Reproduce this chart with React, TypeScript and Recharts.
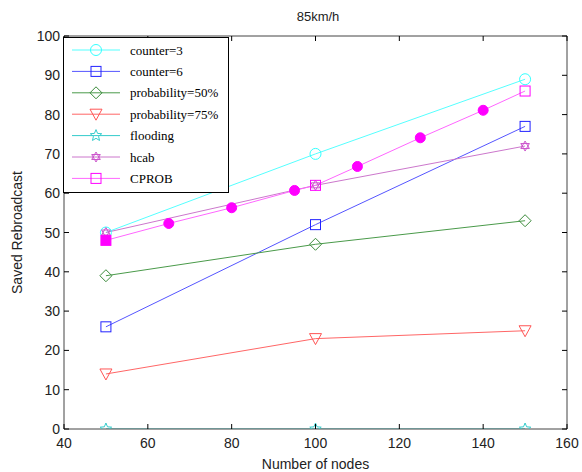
import React from 'react';
import { LineChart, Line, XAxis, YAxis } from 'recharts';

// x values (number of nodes) shared by most series
const nodes = [50, 100, 150];
const counter3 = [50, 70, 89];
const counter6 = [26, 52, 77];
const prob50 = [39, 47, 53];
const prob75 = [14, 23, 25];
const flooding = [0, 0, 0];
const hcab = [50, 62, 72];

// CPROB has extra intermediate points
const cprobNodes = [50, 65, 80, 95, 100, 110, 125, 140, 150];
const cprobValues = [48, 52.3, 56.3, 60.7, 62, 66.8, 74.1, 81.1, 86];
const cprobSquareNodes = [50, 100, 150];

const xTicks = [40, 60, 80, 100, 120, 140, 160];
const yTicks = [0, 10, 20, 30, 40, 50, 60, 70, 80, 90, 100];

type Marker = 'circle' | 'square' | 'diamond' | 'triangle' | 'star' | 'hexagram' | 'cprob';

interface Series {
    name: string;
    color: string;
    lineColor: string;
    marker: Marker;
    data: Array<{ x: number; y: number }>;
}

const zip = (xs: number[], ys: number[]) => xs.map((x, i) => ({ x, y: ys[i] }));

const series: Series[] = [
    { name: 'counter=3', color: '#33ffff', lineColor: '#55ffff', marker: 'circle', data: zip(nodes, counter3) },
    { name: 'counter=6', color: '#2222ff', lineColor: '#5555ff', marker: 'square', data: zip(nodes, counter6) },
    { name: 'probability=50%', color: '#3a8a3a', lineColor: '#4a9a4a', marker: 'diamond', data: zip(nodes, prob50) },
    { name: 'probability=75%', color: '#ff5555', lineColor: '#ff6666', marker: 'triangle', data: zip(nodes, prob75) },
    { name: 'flooding', color: '#33cccc', lineColor: '#33cccc', marker: 'star', data: zip(nodes, flooding) },
    { name: 'hcab', color: '#cc55cc', lineColor: '#cc77cc', marker: 'hexagram', data: zip(nodes, hcab) },
    { name: 'CPROB', color: '#ff00ff', lineColor: '#ff66ff', marker: 'cprob', data: zip(cprobNodes, cprobValues) },
];

const starPath = (cx: number, cy: number, r: number) => {
    const pts: string[] = [];
    for (let i = 0; i < 10; i++) {
        const rad = i % 2 === 0 ? r : r * 0.45;
        const a = -Math.PI / 2 + (i * Math.PI) / 5;
        pts.push(`${cx + rad * Math.cos(a)},${cy + rad * Math.sin(a)}`);
    }
    return 'M' + pts.join('L') + 'Z';
};

const drawMarker = (kind: Marker, color: string, cx: number, cy: number, xVal?: number) => {
    const common = { fill: 'none', stroke: color, strokeWidth: 1 };
    switch (kind) {
        case 'circle':
            return <circle cx={cx} cy={cy} r={5.5} {...common} />;
        case 'square':
            return <rect x={cx - 5} y={cy - 5} width={10} height={10} {...common} />;
        case 'diamond':
            return <path d={`M${cx},${cy - 6}L${cx + 6},${cy}L${cx},${cy + 6}L${cx - 6},${cy}Z`} {...common} />;
        case 'triangle':
            return <path d={`M${cx - 6},${cy - 5}L${cx + 6},${cy - 5}L${cx},${cy + 6}Z`} {...common} />;
        case 'star':
            return <path d={starPath(cx, cy, 6)} {...common} />;
        case 'hexagram':
            return (
                <g {...common}>
                    <path d={`M${cx},${cy - 5}L${cx + 4.3},${cy + 2.5}L${cx - 4.3},${cy + 2.5}Z`} />
                    <path d={`M${cx},${cy + 5}L${cx + 4.3},${cy - 2.5}L${cx - 4.3},${cy - 2.5}Z`} />
                </g>
            );
        case 'cprob':
            if (xVal === undefined || cprobSquareNodes.includes(xVal)) {
                return (
                    <rect
                        x={cx - 5}
                        y={cy - 5}
                        width={10}
                        height={10}
                        fill={xVal === cprobSquareNodes[0] ? color : 'none'}
                        stroke={color}
                    />
                );
            }
            return <circle cx={cx} cy={cy} r={5} fill={color} stroke={color} />;
    }
    return null;
};

const tickFont = { fontFamily: '"Liberation Sans", Arial, sans-serif', fontSize: 14, fill: '#222' };

const LeftTick = ({ x, y, payload }: any) => (
    <g>
        <line x1={x + 4} x2={x + 9} y1={y} y2={y} stroke="#000" />
        <text x={x} y={y + 5} textAnchor="end" {...tickFont}>
            {payload.value}
        </text>
    </g>
);

const BottomTick = ({ x, y, payload }: any) => (
    <g>
        <line x1={x} x2={x} y1={y} y2={y - 5} stroke="#000" />
        <text x={x} y={y + 19} textAnchor="middle" {...tickFont}>
            {payload.value}
        </text>
    </g>
);

const RightTick = ({ x, y }: any) => <line x1={x - 5} x2={x} y1={y} y2={y} stroke="#000" />;

const TopTick = ({ x, y }: any) => <line x1={x} x2={x} y1={y} y2={y + 5} stroke="#000" />;

const LegendBox = () => (
    <svg
        width={166}
        height={156}
        style={{ position: 'absolute', left: 63, top: 37, background: '#fff' }}
    >
        <rect x={0.5} y={0.5} width={165} height={155} fill="#fff" stroke="#000" />
        {series.map((s, i) => {
            const cy = 13 + i * 21.4;
            return (
                <g key={s.name}>
                    <line x1={9} x2={57} y1={cy} y2={cy} stroke={s.lineColor} />
                    {drawMarker(s.marker === 'cprob' ? 'square' : s.marker, s.color, 33, cy)}
                    <text
                        x={67}
                        y={cy + 4.5}
                        fontFamily='"Liberation Serif", "Times New Roman", serif'
                        fontSize={13}
                        fill="#000"
                    >
                        {s.name}
                    </text>
                </g>
            );
        })}
    </svg>
);

export default function App() {
    return (
        <div style={{ position: 'absolute', left: 0, top: 0, width: 582, height: 472, background: '#fff' }}>
            <div
                style={{
                    position: 'absolute',
                    left: 0,
                    width: 582,
                    top: 9,
                    textAlign: 'center',
                    paddingLeft: 54,
                    boxSizing: 'border-box',
                    fontFamily: '"Liberation Sans", Arial, sans-serif',
                    fontSize: 13,
                    color: '#222',
                }}
            >
                85km/h
            </div>
            <LineChart width={582} height={472} margin={{ top: 35, right: 14, left: 24, bottom: 0 }}>
                <XAxis
                    dataKey="x"
                    type="number"
                    domain={[40, 160]}
                    ticks={xTicks}
                    allowDataOverflow
                    height={43}
                    tickSize={0}
                    tickMargin={0}
                    tick={<BottomTick />}
                    axisLine={{ stroke: '#444' }}
                    tickLine={false}
                    label={{
                        value: 'Number of nodes',
                        position: 'insideBottom',
                        offset: 3,
                        style: { ...tickFont, textAnchor: 'middle' },
                    }}
                />
                <XAxis
                    xAxisId="top"
                    dataKey="x"
                    type="number"
                    orientation="top"
                    domain={[40, 160]}
                    ticks={xTicks}
                    allowDataOverflow
                    height={1}
                    tickSize={0}
                    tickMargin={0}
                    tick={<TopTick />}
                    axisLine={{ stroke: '#444' }}
                    tickLine={false}
                />
                <YAxis
                    type="number"
                    domain={[0, 100]}
                    ticks={yTicks}
                    allowDataOverflow
                    width={40}
                    tickSize={0}
                    tickMargin={4}
                    tick={<LeftTick />}
                    axisLine={{ stroke: '#444' }}
                    tickLine={false}
                    label={{
                        value: 'Saved Rebroadcast',
                        angle: -90,
                        position: 'insideLeft',
                        offset: -7,
                        style: { ...tickFont, textAnchor: 'middle' },
                    }}
                />
                <YAxis
                    yAxisId="right"
                    type="number"
                    orientation="right"
                    domain={[0, 100]}
                    ticks={yTicks}
                    allowDataOverflow
                    width={1}
                    tickSize={0}
                    tickMargin={0}
                    tick={<RightTick />}
                    axisLine={{ stroke: '#444' }}
                    tickLine={false}
                />
                {series.map((s) => (
                    <Line
                        key={s.name}
                        data={s.data}
                        dataKey="y"
                        type="linear"
                        stroke={s.lineColor}
                        strokeWidth={1}
                        isAnimationActive={false}
                        dot={(p: any) => (
                            <g key={`${s.name}-${p.index}`}>
                                {drawMarker(s.marker, s.color, p.cx, p.cy, p.payload?.x)}
                            </g>
                        )}
                        activeDot={false}
                    />
                ))}
            </LineChart>
            <LegendBox />
        </div>
    );
}
